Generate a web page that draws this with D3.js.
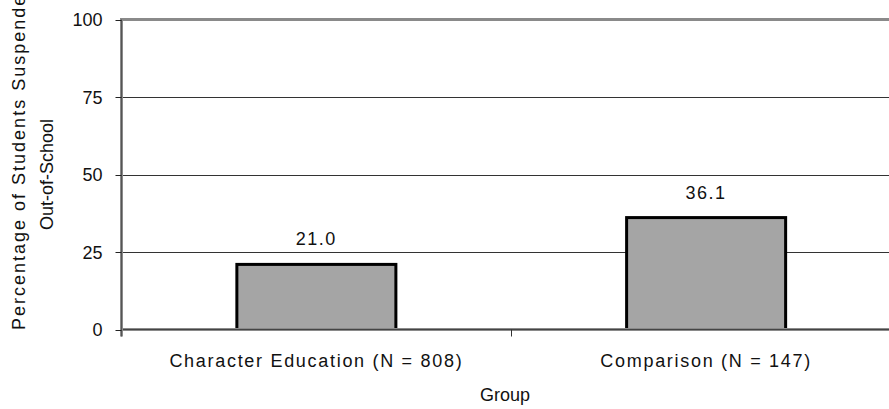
<!DOCTYPE html>
<html>
<head>
<meta charset="utf-8">
<script src="https://cdn.jsdelivr.net/npm/d3@7/dist/d3.min.js"></script>
<style>
  html, body { margin: 0; padding: 0; background: #fff; }
  svg { display: block; }
  text { font-family: "Liberation Sans", Arial, sans-serif; fill: #111; }
</style>
</head>
<body>
<svg id="chart" width="889" height="409"></svg>
<script>
// Out-of-school suspension rates by group
const categories = ["Character Education (N = 808)", "Comparison (N = 147)"];
const values = [21.0, 36.1];
const yTicks = [0, 25, 50, 75, 100];
const yTitleLines = ["Percentage of Students Suspended", "Out-of-School"];
const xTitle = "Group";

const svg = d3.select("#chart");
const W = 889, H = 409;
const plot = { left: 121.5, right: 901, top: 19.5, bottom: 329.5 };

const y = d3.scaleLinear().domain([0, 100]).range([plot.bottom, plot.top]);
const x = d3.scaleBand().domain(categories)
  .range([plot.left, plot.right])
  .paddingInner(0.592).paddingOuter(0.296);
// full-width category slots, used for the category tick marks
const slot = d3.scaleBand().domain(categories).range([plot.left, plot.right]).padding(0);

// inner gridlines
svg.append("g")
  .selectAll("line")
  .data(yTicks.filter(t => t > 0 && t < 100))
  .join("line")
  .attr("x1", plot.left).attr("x2", W)
  .attr("y1", d => Math.round(y(d)) + 0.5).attr("y2", d => Math.round(y(d)) + 0.5)
  .attr("stroke", "#333").attr("stroke-width", 1);

// top border of the plot area
svg.append("line")
  .attr("x1", plot.left).attr("x2", W)
  .attr("y1", plot.top).attr("y2", plot.top)
  .attr("stroke", "#8a8a8a").attr("stroke-width", 3);

// bars
svg.append("g")
  .selectAll("rect")
  .data(categories)
  .join("rect")
  .attr("x", d => x(d))
  .attr("y", (d, i) => y(values[i]))
  .attr("width", x.bandwidth())
  .attr("height", (d, i) => y(0) - y(values[i]))
  .attr("fill", "#a5a5a5")
  .attr("stroke", "#000")
  .attr("stroke-width", 3);

// value labels
svg.append("g")
  .selectAll("text")
  .data(categories)
  .join("text")
  .attr("x", d => x(d) + x.bandwidth() / 2)
  .attr("y", (d, i) => y(values[i]) - 19)
  .attr("text-anchor", "middle")
  .attr("font-size", 18)
  .attr("letter-spacing", 1.5)
  .text((d, i) => values[i].toFixed(1));

// category axis line
svg.append("line")
  .attr("x1", plot.left).attr("x2", W)
  .attr("y1", plot.bottom).attr("y2", plot.bottom)
  .attr("stroke", "#8a8a8a").attr("stroke-width", 3);
svg.append("line")
  .attr("x1", plot.left).attr("x2", W)
  .attr("y1", plot.bottom).attr("y2", plot.bottom)
  .attr("stroke", "#444").attr("stroke-width", 1);

// category tick marks between slots
svg.append("g")
  .selectAll("line")
  .data(categories.slice(1))
  .join("line")
  .attr("x1", d => Math.round(slot(d)) + 0.5).attr("x2", d => Math.round(slot(d)) + 0.5)
  .attr("y1", plot.bottom).attr("y2", plot.bottom + 7)
  .attr("stroke", "#333").attr("stroke-width", 1);

// value axis line
svg.append("line")
  .attr("x1", plot.left).attr("x2", plot.left)
  .attr("y1", plot.top - 1.5).attr("y2", plot.bottom + 7)
  .attr("stroke", "#8a8a8a").attr("stroke-width", 3);
svg.append("line")
  .attr("x1", plot.left).attr("x2", plot.left)
  .attr("y1", plot.top).attr("y2", plot.bottom + 7)
  .attr("stroke", "#555").attr("stroke-width", 1);

// value axis ticks and labels
const yAxis = svg.append("g");
yAxis.selectAll("line")
  .data(yTicks)
  .join("line")
  .attr("x1", plot.left - 6).attr("x2", plot.left)
  .attr("y1", d => Math.round(y(d)) + 0.5).attr("y2", d => Math.round(y(d)) + 0.5)
  .attr("stroke", "#222").attr("stroke-width", 1);
yAxis.selectAll("text")
  .data(yTicks)
  .join("text")
  .attr("x", plot.left - 19)
  .attr("y", d => y(d) + 6.5)
  .attr("text-anchor", "end")
  .attr("font-size", 18)
  .text(d => d);

// category labels
svg.append("g")
  .selectAll("text")
  .data(categories)
  .join("text")
  .attr("x", d => x(d) + x.bandwidth() / 2)
  .attr("y", 367)
  .attr("text-anchor", "middle")
  .attr("font-size", 18)
  .attr("letter-spacing", 1.7)
  .text(d => d);

// axis titles
svg.append("text")
  .attr("x", 505).attr("y", 401)
  .attr("text-anchor", "middle")
  .attr("font-size", 18)
  .text(xTitle);

// the first title line runs past the top edge of the chart area
svg.append("text")
  .attr("transform", "translate(25,330) rotate(-90)")
  .attr("text-anchor", "start")
  .attr("font-size", 18)
  .attr("letter-spacing", 2)
  .text(yTitleLines[0]);
svg.append("text")
  .attr("transform", `translate(52.5,${(plot.top + plot.bottom) / 2}) rotate(-90)`)
  .attr("text-anchor", "middle")
  .attr("font-size", 18)
  .text(yTitleLines[1]);
</script>
</body>
</html>
